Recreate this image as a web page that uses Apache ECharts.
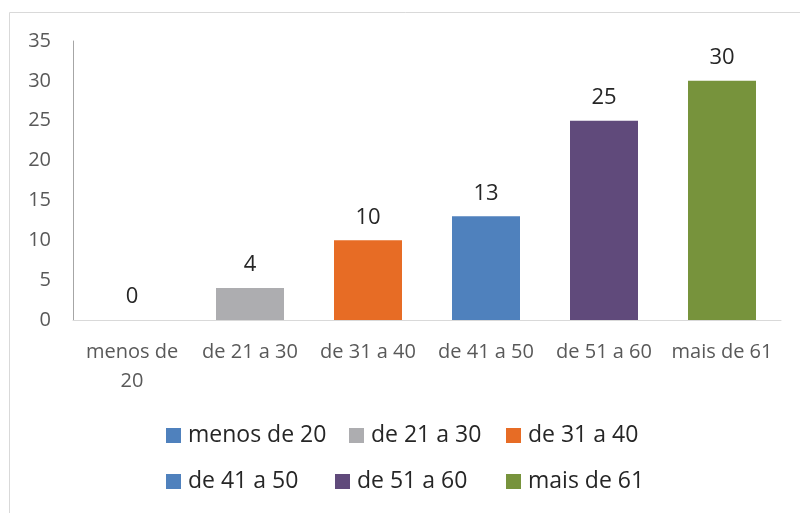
<!DOCTYPE html>
<html>
<head>
<meta charset="utf-8">
<script src="https://cdn.jsdelivr.net/npm/echarts@6/dist/echarts.min.js"></script>
<style>
  html, body { margin: 0; padding: 0; background: #fff; }
  #chart { width: 800px; height: 513px; }
</style>
</head>
<body>
<div id="chart"></div>
<script>
// categorias e valores
const categories = ['menos de 20', 'de 21 a 30', 'de 31 a 40', 'de 41 a 50', 'de 51 a 60', 'mais de 61'];
const values = [0, 4, 10, 13, 25, 30];
const colors = ['#4f81bd', '#adadb0', '#e76c25', '#4f81bd', '#604a7b', '#77933c'];
const yTicks = { min: 0, max: 35, interval: 5 };

// posição de cada item da legenda
const legendPos = [
    { left: 166, top: 424 }, { left: 349, top: 424 }, { left: 506, top: 424 },
    { left: 166, top: 470 }, { left: 335, top: 470 }, { left: 506, top: 470 }
];

const font = '"Open Sans", "Liberation Sans", sans-serif';

function init() {
    const chart = echarts.init(document.getElementById('chart'));

    // uma série por faixa etária, empilhadas para ficarem centradas
    const series = categories.map((name, i) => ({
        name: name,
        type: 'bar',
        stack: 'idade',
        barWidth: 68,
        itemStyle: { color: colors[i] },
        label: {
            show: true,
            position: 'top',
            distance: 12,
            color: '#262626',
            fontSize: 22,
            fontFamily: font
        },
        data: categories.map((c, j) => (j === i ? values[i] : null))
    }));

    const legends = categories.map((name, i) => ({
        data: [name],
        left: legendPos[i].left,
        top: legendPos[i].top,
        padding: 0,
        icon: 'rect',
        itemWidth: 15,
        itemHeight: 15,
        itemGap: 0,
        textStyle: { fontSize: 23, color: '#262626', fontFamily: font, padding: [0, 0, 0, 2] },
        selectedMode: false
    }));

    chart.setOption({
        animation: false,
        graphic: [{
            type: 'rect',
            shape: { x: 9.5, y: 12.5, width: 800, height: 520 },
            style: { fill: 'none', stroke: '#d9d9d9', lineWidth: 1 }
        }],
        grid: { left: 73, right: 19, top: 41, bottom: 193, containLabel: false },
        legend: legends,
        xAxis: {
            type: 'category',
            data: categories,
            axisTick: { show: false },
            axisLine: { lineStyle: { color: '#d9d9d9' } },
            axisLabel: {
                color: '#595959',
                fontSize: 20,
                fontFamily: font,
                margin: 18,
                lineHeight: 29,
                interval: 0,
                formatter: v => v.replace('menos de ', 'menos de\n')
            }
        },
        yAxis: {
            type: 'value',
            min: yTicks.min,
            max: yTicks.max,
            interval: yTicks.interval,
            splitLine: { show: false },
            axisLine: { show: true, lineStyle: { color: '#a6a6a6' } },
            axisTick: { show: false },
            axisLabel: { color: '#595959', fontSize: 20, fontFamily: font, margin: 22 }
        },
        series: series
    });
}

document.addEventListener('DOMContentLoaded', init);
</script>
</body>
</html>
